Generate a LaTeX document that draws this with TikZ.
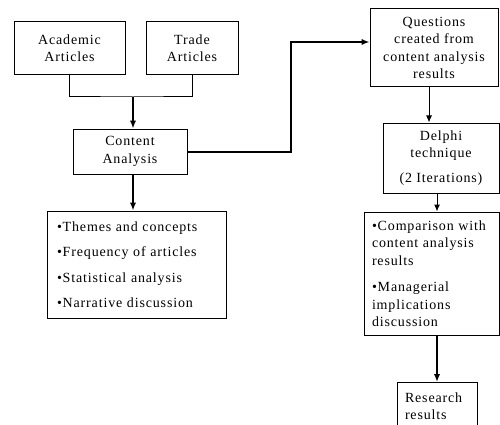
\documentclass[tikz,border=0pt]{standalone}
\usepackage{fontspec}
\setmainfont{Liberation Serif}[LetterSpace=6]
\usetikzlibrary{shapes,arrows.meta,positioning}

\begin{document}
\begin{tikzpicture}[x=1pt, y=-1pt, font=\fontsize{14}{17.5}\selectfont]
\tikzstyle{block} = [rectangle, draw, line width=1pt, align=center, inner sep=4pt]
\tikzstyle{listblock} = [block, align=left, inner xsep=8pt]
\tikzstyle{line} = [draw, line width=1pt, -{Latex[length=7pt,width=6pt]}]
\tikzstyle{heavy} = [draw, line width=2pt, -{Latex[length=8pt,width=6.5pt]}]

\clip (0,0) rectangle (500,425);

\node [block, minimum width=111pt, minimum height=53pt] (academic) at (69.5,48) {Academic\\Articles};
\node [block, minimum width=92pt, minimum height=53pt] (trade) at (192,48) {Trade\\Articles};
\node [block, minimum width=114pt, minimum height=45pt] (content) at (130,151.5) {Content\\Analysis};
\node [listblock, text width=159pt, inner xsep=10pt, minimum height=107pt] (themes) at (136.5,264.5)
  {\textbullet Themes and concepts\\[8pt] \textbullet Frequency of articles\\[8pt]
   \textbullet Statistical analysis\\[8pt] \textbullet Narrative discussion};
\node [block, minimum width=128pt, minimum height=78pt] (questions) at (434,48)
  {Questions\\created from\\content analysis\\results};
\node [block, minimum width=116pt, minimum height=70pt] (delphi) at (441,158)
  {Delphi\\technique\\[7pt](2 Iterations)};
\node [listblock, text width=119pt, minimum height=123pt] (comparison) at (431.5,273.5)
  {\textbullet Comparison with\\content analysis\\results\\[9pt]
   \textbullet Managerial\\implications\\discussion};
\node [listblock, anchor=north, text width=64pt, minimum height=47pt] (research) at (437,382) {Research\\results};

% joining point of the two article sources
\coordinate (join) at (133,97);
\coordinate (bend) at (291,42);

\draw [line width=1pt] (academic.south) |- (join) -| (trade.south);
\path [heavy] (join) -- (join |- content.north);
\path [heavy] (content.south -| join) -- (themes.north -| join);
\path [heavy] (content.east) -| (bend) -- (bend -| questions.west);
\path [line] (questions.south -| 429,0) -- (delphi.north -| 429,0);
\path [line] (delphi.south -| 437,0) -- (comparison.north -| 437,0);
\path [heavy] (comparison.south -| 437,0) -- (research.north);
\end{tikzpicture}
\end{document}
